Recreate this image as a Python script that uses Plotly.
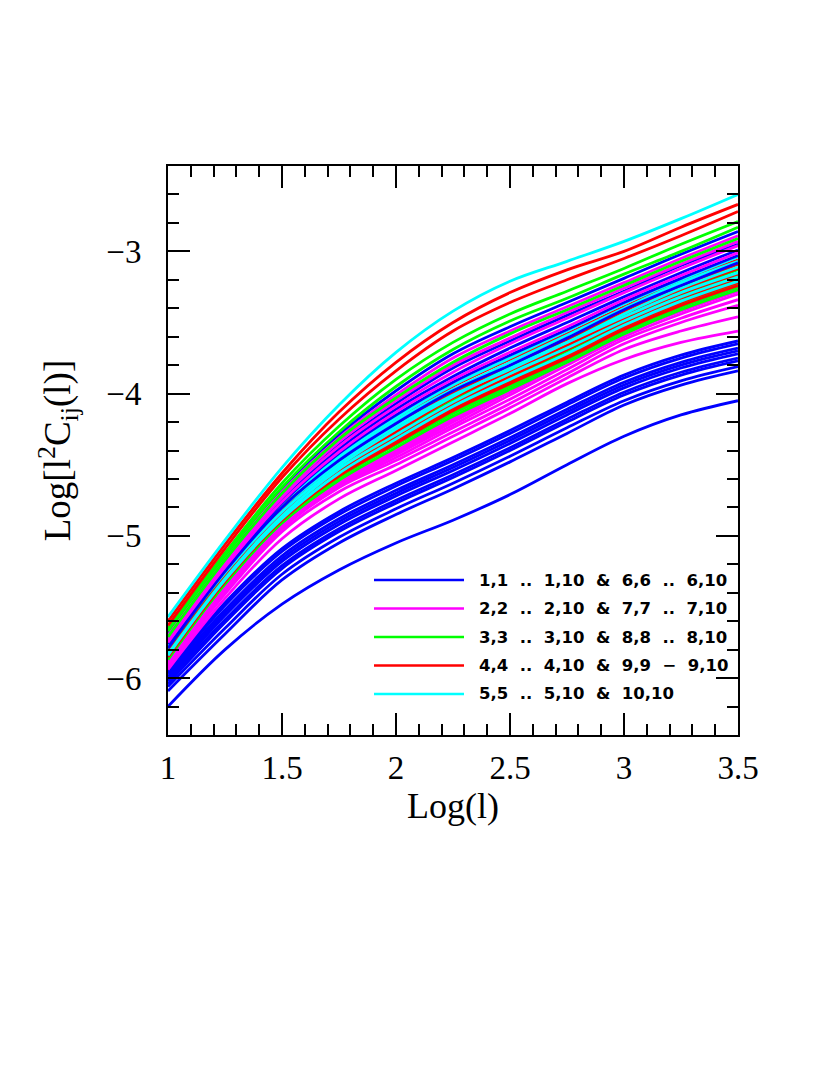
import plotly.graph_objects as go

# sample points along Log(l)
log_l = [1.0, 1.25, 1.5, 1.75, 2.0, 2.25, 2.5, 2.75, 3.0, 3.25, 3.5]

# Log[l^2 C_ij(l)], one row per (i, j) pair
blue_pairs = [(1, 1), (1, 2), (1, 3), (1, 4), (1, 5), (1, 6), (1, 7), (1, 8),
              (1, 9), (1, 10), (6, 6), (6, 7), (6, 8), (6, 9), (6, 10)]
blue_curves = [
    [-6.20, -5.80, -5.48, -5.24, -5.05, -4.89, -4.71, -4.50, -4.30, -4.15, -4.05],
    [-6.09, -5.69, -5.31, -5.05, -4.85, -4.67, -4.48, -4.28, -4.08, -3.94, -3.84],
    [-6.06, -5.65, -5.27, -5.01, -4.81, -4.63, -4.44, -4.24, -4.05, -3.91, -3.81],
    [-6.04, -5.61, -5.23, -4.97, -4.77, -4.59, -4.40, -4.20, -4.01, -3.87, -3.77],
    [-6.02, -5.59, -5.21, -4.95, -4.75, -4.57, -4.38, -4.18, -3.99, -3.85, -3.75],
    [-6.01, -5.56, -5.18, -4.92, -4.72, -4.54, -4.35, -4.15, -3.96, -3.82, -3.72],
    [-5.99, -5.54, -5.16, -4.90, -4.70, -4.52, -4.33, -4.13, -3.94, -3.80, -3.70],
    [-5.97, -5.52, -5.14, -4.88, -4.68, -4.50, -4.31, -4.11, -3.92, -3.78, -3.68],
    [-5.96, -5.49, -5.11, -4.85, -4.65, -4.47, -4.28, -4.08, -3.89, -3.75, -3.65],
    [-5.94, -5.47, -5.09, -4.83, -4.63, -4.45, -4.26, -4.06, -3.87, -3.73, -3.63],
    [-5.79, -5.25, -4.80, -4.47, -4.21, -3.98, -3.80, -3.61, -3.41, -3.24, -3.08],
    [-5.76, -5.23, -4.77, -4.42, -4.15, -3.92, -3.73, -3.55, -3.36, -3.19, -3.03],
    [-5.74, -5.21, -4.75, -4.39, -4.11, -3.88, -3.68, -3.50, -3.32, -3.15, -2.99],
    [-5.72, -5.19, -4.72, -4.36, -4.07, -3.82, -3.63, -3.45, -3.28, -3.10, -2.95],
    [-5.69, -5.15, -4.67, -4.29, -3.98, -3.72, -3.53, -3.36, -3.19, -3.02, -2.86],
]

magenta_pairs = [(2, 2), (2, 3), (2, 4), (2, 5), (2, 6), (2, 7), (2, 8),
                 (2, 9), (2, 10), (7, 7), (7, 8), (7, 9), (7, 10)]
magenta_curves = [
    [-5.94, -5.44, -5.02, -4.74, -4.54, -4.34, -4.14, -3.93, -3.76, -3.64, -3.56],
    [-5.92, -5.41, -4.97, -4.69, -4.50, -4.30, -4.10, -3.89, -3.69, -3.56, -3.46],
    [-5.91, -5.39, -4.95, -4.66, -4.47, -4.27, -4.07, -3.86, -3.65, -3.50, -3.38],
    [-5.90, -5.38, -4.94, -4.65, -4.45, -4.24, -4.04, -3.83, -3.62, -3.47, -3.34],
    [-5.89, -5.37, -4.93, -4.64, -4.43, -4.22, -4.01, -3.80, -3.60, -3.44, -3.30],
    [-5.88, -5.36, -4.92, -4.63, -4.42, -4.20, -3.99, -3.78, -3.58, -3.42, -3.28],
    [-5.88, -5.35, -4.92, -4.62, -4.41, -4.19, -3.97, -3.77, -3.57, -3.41, -3.27],
    [-5.87, -5.35, -4.91, -4.62, -4.40, -4.18, -3.96, -3.76, -3.56, -3.40, -3.26],
    [-5.87, -5.34, -4.91, -4.61, -4.39, -4.17, -3.95, -3.75, -3.55, -3.40, -3.25],
    [-5.75, -5.22, -4.76, -4.41, -4.13, -3.90, -3.71, -3.53, -3.34, -3.17, -3.01],
    [-5.73, -5.20, -4.73, -4.37, -4.09, -3.85, -3.65, -3.47, -3.29, -3.12, -2.96],
    [-5.72, -5.18, -4.71, -4.34, -4.05, -3.80, -3.61, -3.43, -3.26, -3.09, -2.93],
    [-5.70, -5.16, -4.69, -4.31, -4.01, -3.75, -3.56, -3.39, -3.22, -3.05, -2.89],
]

green_pairs = [(3, 3), (3, 4), (3, 5), (3, 6), (3, 7), (3, 8), (3, 9),
               (3, 10), (8, 8), (8, 9), (8, 10)]
green_curves = [
    [-5.87, -5.34, -4.91, -4.61, -4.38, -4.16, -3.97, -3.78, -3.58, -3.41, -3.27],
    [-5.86, -5.33, -4.90, -4.59, -4.36, -4.14, -3.95, -3.76, -3.56, -3.39, -3.25],
    [-5.86, -5.33, -4.90, -4.58, -4.35, -4.13, -3.94, -3.75, -3.55, -3.38, -3.24],
    [-5.85, -5.32, -4.89, -4.57, -4.34, -4.12, -3.93, -3.74, -3.54, -3.37, -3.23],
    [-5.85, -5.32, -4.88, -4.56, -4.33, -4.10, -3.91, -3.72, -3.53, -3.36, -3.22],
    [-5.84, -5.31, -4.87, -4.55, -4.31, -4.08, -3.89, -3.70, -3.51, -3.34, -3.20],
    [-5.83, -5.29, -4.85, -4.53, -4.28, -4.05, -3.86, -3.67, -3.48, -3.31, -3.17],
    [-5.81, -5.28, -4.83, -4.50, -4.24, -4.00, -3.81, -3.63, -3.44, -3.28, -3.13],
    [-5.71, -5.17, -4.70, -4.32, -4.03, -3.78, -3.58, -3.41, -3.24, -3.07, -2.91],
    [-5.67, -5.14, -4.66, -4.27, -3.95, -3.69, -3.49, -3.33, -3.16, -3.00, -2.83],
    [-5.65, -5.12, -4.63, -4.23, -3.90, -3.64, -3.44, -3.28, -3.12, -2.95, -2.79],
]

red_pairs = [(4, 4), (4, 5), (4, 6), (4, 7), (4, 8), (4, 9), (4, 10), (9, 9), (9, 10)]
red_curves = [
    [-5.85, -5.32, -4.89, -4.58, -4.35, -4.12, -3.93, -3.75, -3.55, -3.38, -3.24],
    [-5.85, -5.32, -4.88, -4.57, -4.33, -4.11, -3.92, -3.73, -3.53, -3.36, -3.22],
    [-5.83, -5.30, -4.87, -4.54, -4.30, -4.07, -3.88, -3.69, -3.50, -3.33, -3.19],
    [-5.82, -5.29, -4.85, -4.52, -4.27, -4.03, -3.84, -3.66, -3.47, -3.30, -3.16],
    [-5.75, -5.23, -4.81, -4.50, -4.25, -4.03, -3.84, -3.65, -3.45, -3.27, -3.12],
    [-5.72, -5.21, -4.79, -4.48, -4.22, -4.00, -3.81, -3.62, -3.42, -3.25, -3.09],
    [-5.68, -5.19, -4.76, -4.44, -4.18, -3.95, -3.76, -3.58, -3.39, -3.21, -3.06],
    [-5.63, -5.09, -4.59, -4.18, -3.84, -3.56, -3.36, -3.20, -3.05, -2.89, -2.72],
    [-5.60, -5.06, -4.56, -4.13, -3.78, -3.50, -3.29, -3.13, -3.00, -2.83, -2.67],
]

cyan_pairs = [(5, 5), (5, 6), (5, 7), (5, 8), (5, 9), (5, 10), (10, 10)]
cyan_curves = [
    [-5.84, -5.31, -4.88, -4.56, -4.32, -4.09, -3.90, -3.72, -3.52, -3.35, -3.21],
    [-5.83, -5.30, -4.86, -4.53, -4.29, -4.06, -3.86, -3.68, -3.49, -3.32, -3.18],
    [-5.77, -5.26, -4.83, -4.51, -4.25, -4.02, -3.82, -3.64, -3.46, -3.29, -3.15],
    [-5.74, -5.22, -4.80, -4.49, -4.23, -4.01, -3.83, -3.64, -3.44, -3.26, -3.11],
    [-5.70, -5.20, -4.77, -4.45, -4.19, -3.97, -3.78, -3.59, -3.40, -3.22, -3.07],
    [-5.66, -5.17, -4.75, -4.43, -4.17, -3.94, -3.75, -3.56, -3.37, -3.20, -3.04],
    [-5.57, -5.03, -4.52, -4.08, -3.71, -3.42, -3.21, -3.07, -2.93, -2.77, -2.60],
]

legend_labels = [
    "1,1  ..  1,10  &  6,6  ..  6,10",
    "2,2  ..  2,10  &  7,7  ..  7,10",
    "3,3  ..  3,10  &  8,8  ..  8,10",
    "4,4  ..  4,10  &  9,9  −  9,10",
    "5,5  ..  5,10  &  10,10",
]

BLUE = "#0000ff"
MAGENTA = "#ff00ff"
GREEN = "#00ff00"
RED = "#ff0000"
CYAN = "#00ffff"

groups = [
    (blue_pairs, blue_curves, BLUE),
    (magenta_pairs, magenta_curves, MAGENTA),
    (green_pairs, green_curves, GREEN),
    (red_pairs, red_curves, RED),
    (cyan_pairs, cyan_curves, CYAN),
]

# draw in pair order so later bins sit on top
all_lines = []
for pairs, curves, color in groups:
    for pair, curve in zip(pairs, curves):
        all_lines.append((pair, curve, color))
all_lines.sort(key=lambda t: t[0])

fig = go.Figure()

for pair, curve, color in all_lines:
    fig.add_trace(
        go.Scatter(
            x=log_l,
            y=curve,
            mode="lines",
            line=dict(color=color, width=2.8, shape="spline", smoothing=1.0),
            name=f"{pair[0]},{pair[1]}",
            showlegend=False,
            hoverinfo="skip",
        )
    )

# hand-drawn legend inside the frame
legend_colors = [BLUE, MAGENTA, GREEN, RED, CYAN]
legend_y = [0.2724, 0.2223, 0.1722, 0.1221, 0.0721]
for label, color, ly in zip(legend_labels, legend_colors, legend_y):
    fig.add_shape(
        type="line", xref="paper", yref="paper",
        x0=0.3614, x1=0.5193, y0=ly, y1=ly,
        line=dict(color=color, width=2.5),
    )
    fig.add_annotation(
        xref="paper", yref="paper", x=0.5421, y=ly,
        xanchor="left", yanchor="middle", showarrow=False,
        text=f"<b>{label}</b>",
        font=dict(family="DejaVu Sans", size=16.5, color="black"),
    )

axis_style = dict(
    ticks="inside",
    ticklen=22,
    tickwidth=2,
    tickcolor="black",
    showline=True,
    linecolor="black",
    linewidth=2,
    mirror="ticks",
    showgrid=False,
    zeroline=False,
    tickfont=dict(family="Liberation Serif", size=33, color="black"),
)

fig.update_xaxes(
    range=[1, 3.5],
    tick0=1,
    dtick=0.5,
    minor=dict(ticks="inside", dtick=0.1, ticklen=11, tickwidth=2, tickcolor="black"),
    ticklabelstandoff=2,
    title=dict(text="Log(l)", font=dict(family="Liberation Serif", size=36, color="black"), standoff=4),
    **axis_style,
)
fig.update_yaxes(
    range=[-6.4, -2.4],
    tick0=-6,
    dtick=1,
    minor=dict(ticks="inside", dtick=0.2, ticklen=11, tickwidth=2, tickcolor="black"),
    ticklabelstandoff=18,
    title=dict(text="Log[l<sup>2</sup>C<sub>ij</sub>(l)]",
               font=dict(family="Liberation Serif", size=37, color="black"), standoff=24),
    **axis_style,
)

fig.update_layout(
    width=822,
    height=1067,
    margin=dict(l=160, r=92, t=158, b=340),
    plot_bgcolor="white",
    paper_bgcolor="white",
    showlegend=False,
)

fig.write_html("out.html")
